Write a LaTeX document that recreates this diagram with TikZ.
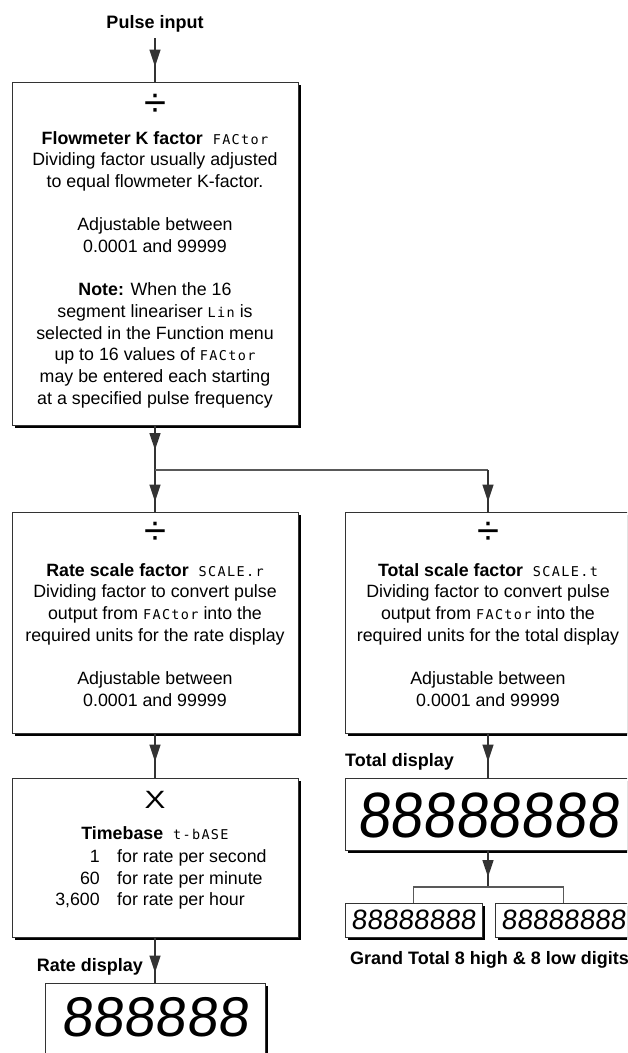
\documentclass[tikz,border=0pt]{standalone}
\usepackage{fontspec}
\setmainfont{Liberation Sans}
\newfontfamily\segfont[LetterSpace=10]{DejaVu Sans Mono}
\newfontfamily\digfont[FakeSlant=0.1]{Liberation Sans}
\newfontfamily\digfontn[FakeSlant=0.1,FakeStretch=0.92]{Liberation Sans}
\usetikzlibrary{shadows,decorations.markings,arrows.meta}
\newcommand{\seg}[1]{{\segfont\fontsize{13.5}{13.5}\selectfont #1}}
\tikzset{
 box/.style={draw=black!80, line width=0.8pt, fill=white, minimum width=286pt, inner sep=0pt,
   general shadow={fill=black, shadow xshift=3pt, shadow yshift=-3pt}},
 body/.style={align=center, font=\fontsize{17.8}{21.67}\selectfont, inner sep=0pt},
 txt/.style={font=\fontsize{17.8}{21.67}\selectfont, inner sep=0pt},
 lbl/.style={font=\bfseries\fontsize{18}{20}\selectfont, inner sep=0pt},
 sym/.style={font=\fontsize{40}{40}\selectfont, inner sep=0pt},
 dig/.style={inner sep=0pt},
 conn/.style={draw=black!80, line width=1.4pt},
 branch/.style={draw=black!65, line width=1.2pt},
 tipat/.style={postaction={decorate}, decoration={markings,
   mark=at position #1 with {\arrow{Triangle[length=17pt,width=11pt]}}}},
}
\begin{document}
\begin{tikzpicture}[x=1pt,y=-1pt]
\useasboundingbox (0,0) rectangle (627,1053);
\clip (0,0) rectangle (627,1053);
\fill[white] (0,0) rectangle (627,1053);

% top
\node[lbl] (pulse) at (155,24) {Pulse input};
\coordinate (pin) at (155,38);
\node[box, minimum height=343pt] (b1) at (155,253.5) {};
\node[sym] (d1) at (155,105) {÷};
\node[body, anchor=north] (t1) at (155,131) {\textbf{Flowmeter K factor}\ \ \seg{FACtor}\\
Dividing factor usually adjusted\\
to equal flowmeter K-factor.\\[21.67pt]
Adjustable between\\
0.0001 and 99999\\[21.67pt]
\textbf{Note:} When the 16\\
segment lineariser \seg{Lin} is\\
selected in the Function menu\\
up to 16 values of \seg{FACtor}\\
may be entered each starting\\
at a specified pulse frequency};

% second row
\coordinate (split) at (155,470);
\coordinate (splitR) at (488,470);
\node[box, minimum height=221pt] (b2) at (155,622.5) {};
\node[sym] (d2) at (155,533) {÷};
\node[body, anchor=north] (t2) at (155,563) {\textbf{Rate scale factor}\ \ \seg{SCALE.r}\\
Dividing factor to convert pulse\\
output from \seg{FACtor} into the\\
required units for the rate display\\[21.67pt]
Adjustable between\\
0.0001 and 99999};

\node[box, minimum height=221pt] (b2r) at (488,622.5) {};
\node[sym] (d2r) at (488,533) {÷};
\node[body, anchor=north] (t2r) at (488,563) {\textbf{Total scale factor}\ \ \seg{SCALE.t}\\
Dividing factor to convert pulse\\
output from \seg{FACtor} into the\\
required units for the total display\\[21.67pt]
Adjustable between\\
0.0001 and 99999};

% timebase
\node[box, minimum height=159pt] (b3) at (155,857.5) {};
\node[font=\fontsize{25}{25}\selectfont, inner sep=0pt] (x3) at (155,800) {\scalebox{1.25}[1]{X}};
\node[txt, anchor=base] (t3) at (155,839) {\textbf{Timebase}\ \ \seg{t-bASE}};
\node[txt, anchor=base east] (n1) at (100,862) {1};
\node[txt, anchor=base west] (r1) at (117,862) {for rate per second};
\node[txt, anchor=base east] (n2) at (100,884) {60};
\node[txt, anchor=base west] (r2) at (117,884) {for rate per minute};
\node[txt, anchor=base east] (n3) at (100,905) {3,600};
\node[txt, anchor=base west] (r3) at (117,905) {for rate per hour};

% rate display
\node[lbl, anchor=base east] (rdl) at (143,971) {Rate display};
\node[box, minimum width=220pt, minimum height=90pt] (rd) at (155,1028) {};
\node[dig] (rdd) at (155,1017) {\digfont\fontsize{56}{56}\selectfont 888888};

% total display
\node[lbl, anchor=base west] (tdl) at (345,766) {Total display};
\node[box, minimum height=72pt] (td) at (488,814) {};
\node[dig] (tdd) at (488,815) {\digfontn\fontsize{64}{64}\selectfont 88888888};

\coordinate (split2) at (488,887);
\node[box, minimum width=137pt, minimum height=34pt] (sl) at (413.5,920) {};
\node[box, minimum width=137pt, minimum height=34pt] (sr) at (563.5,920) {};
\node[dig] (sld) at (413.5,920) {\digfont\fontsize{28}{28}\selectfont 88888888};
\node[dig] (srd) at (563.5,920) {\digfont\fontsize{28}{28}\selectfont 88888888};
\node[lbl, anchor=base west] (gt) at (350,964) {Grand Total 8 high \& 8 low digits};

% connectors
\draw[conn, tipat=-15pt] (pin) -- (b1.north);
\draw[conn, tipat=-20pt] (b1.south) -- (split);
\draw[conn, tipat=-10pt] (split) -- (b2.north);
\draw[branch] (split) -- (splitR);
\draw[conn, tipat=-10pt] (splitR) -- (b2r.north);
\draw[conn, tipat=-16pt] (b2.south) -- (b3.north);
\draw[conn, tipat=-10pt] (b3.south) -- (rd.north);
\draw[conn, tipat=-16pt] (b2r.south) -- (td.north);
\draw[conn, tipat=-10pt] (td.south) -- (split2);
\draw[branch] (sl.north) -- (sl.north |- split2) -- (sr.north |- split2) -- (sr.north);
\end{tikzpicture}
\end{document}
